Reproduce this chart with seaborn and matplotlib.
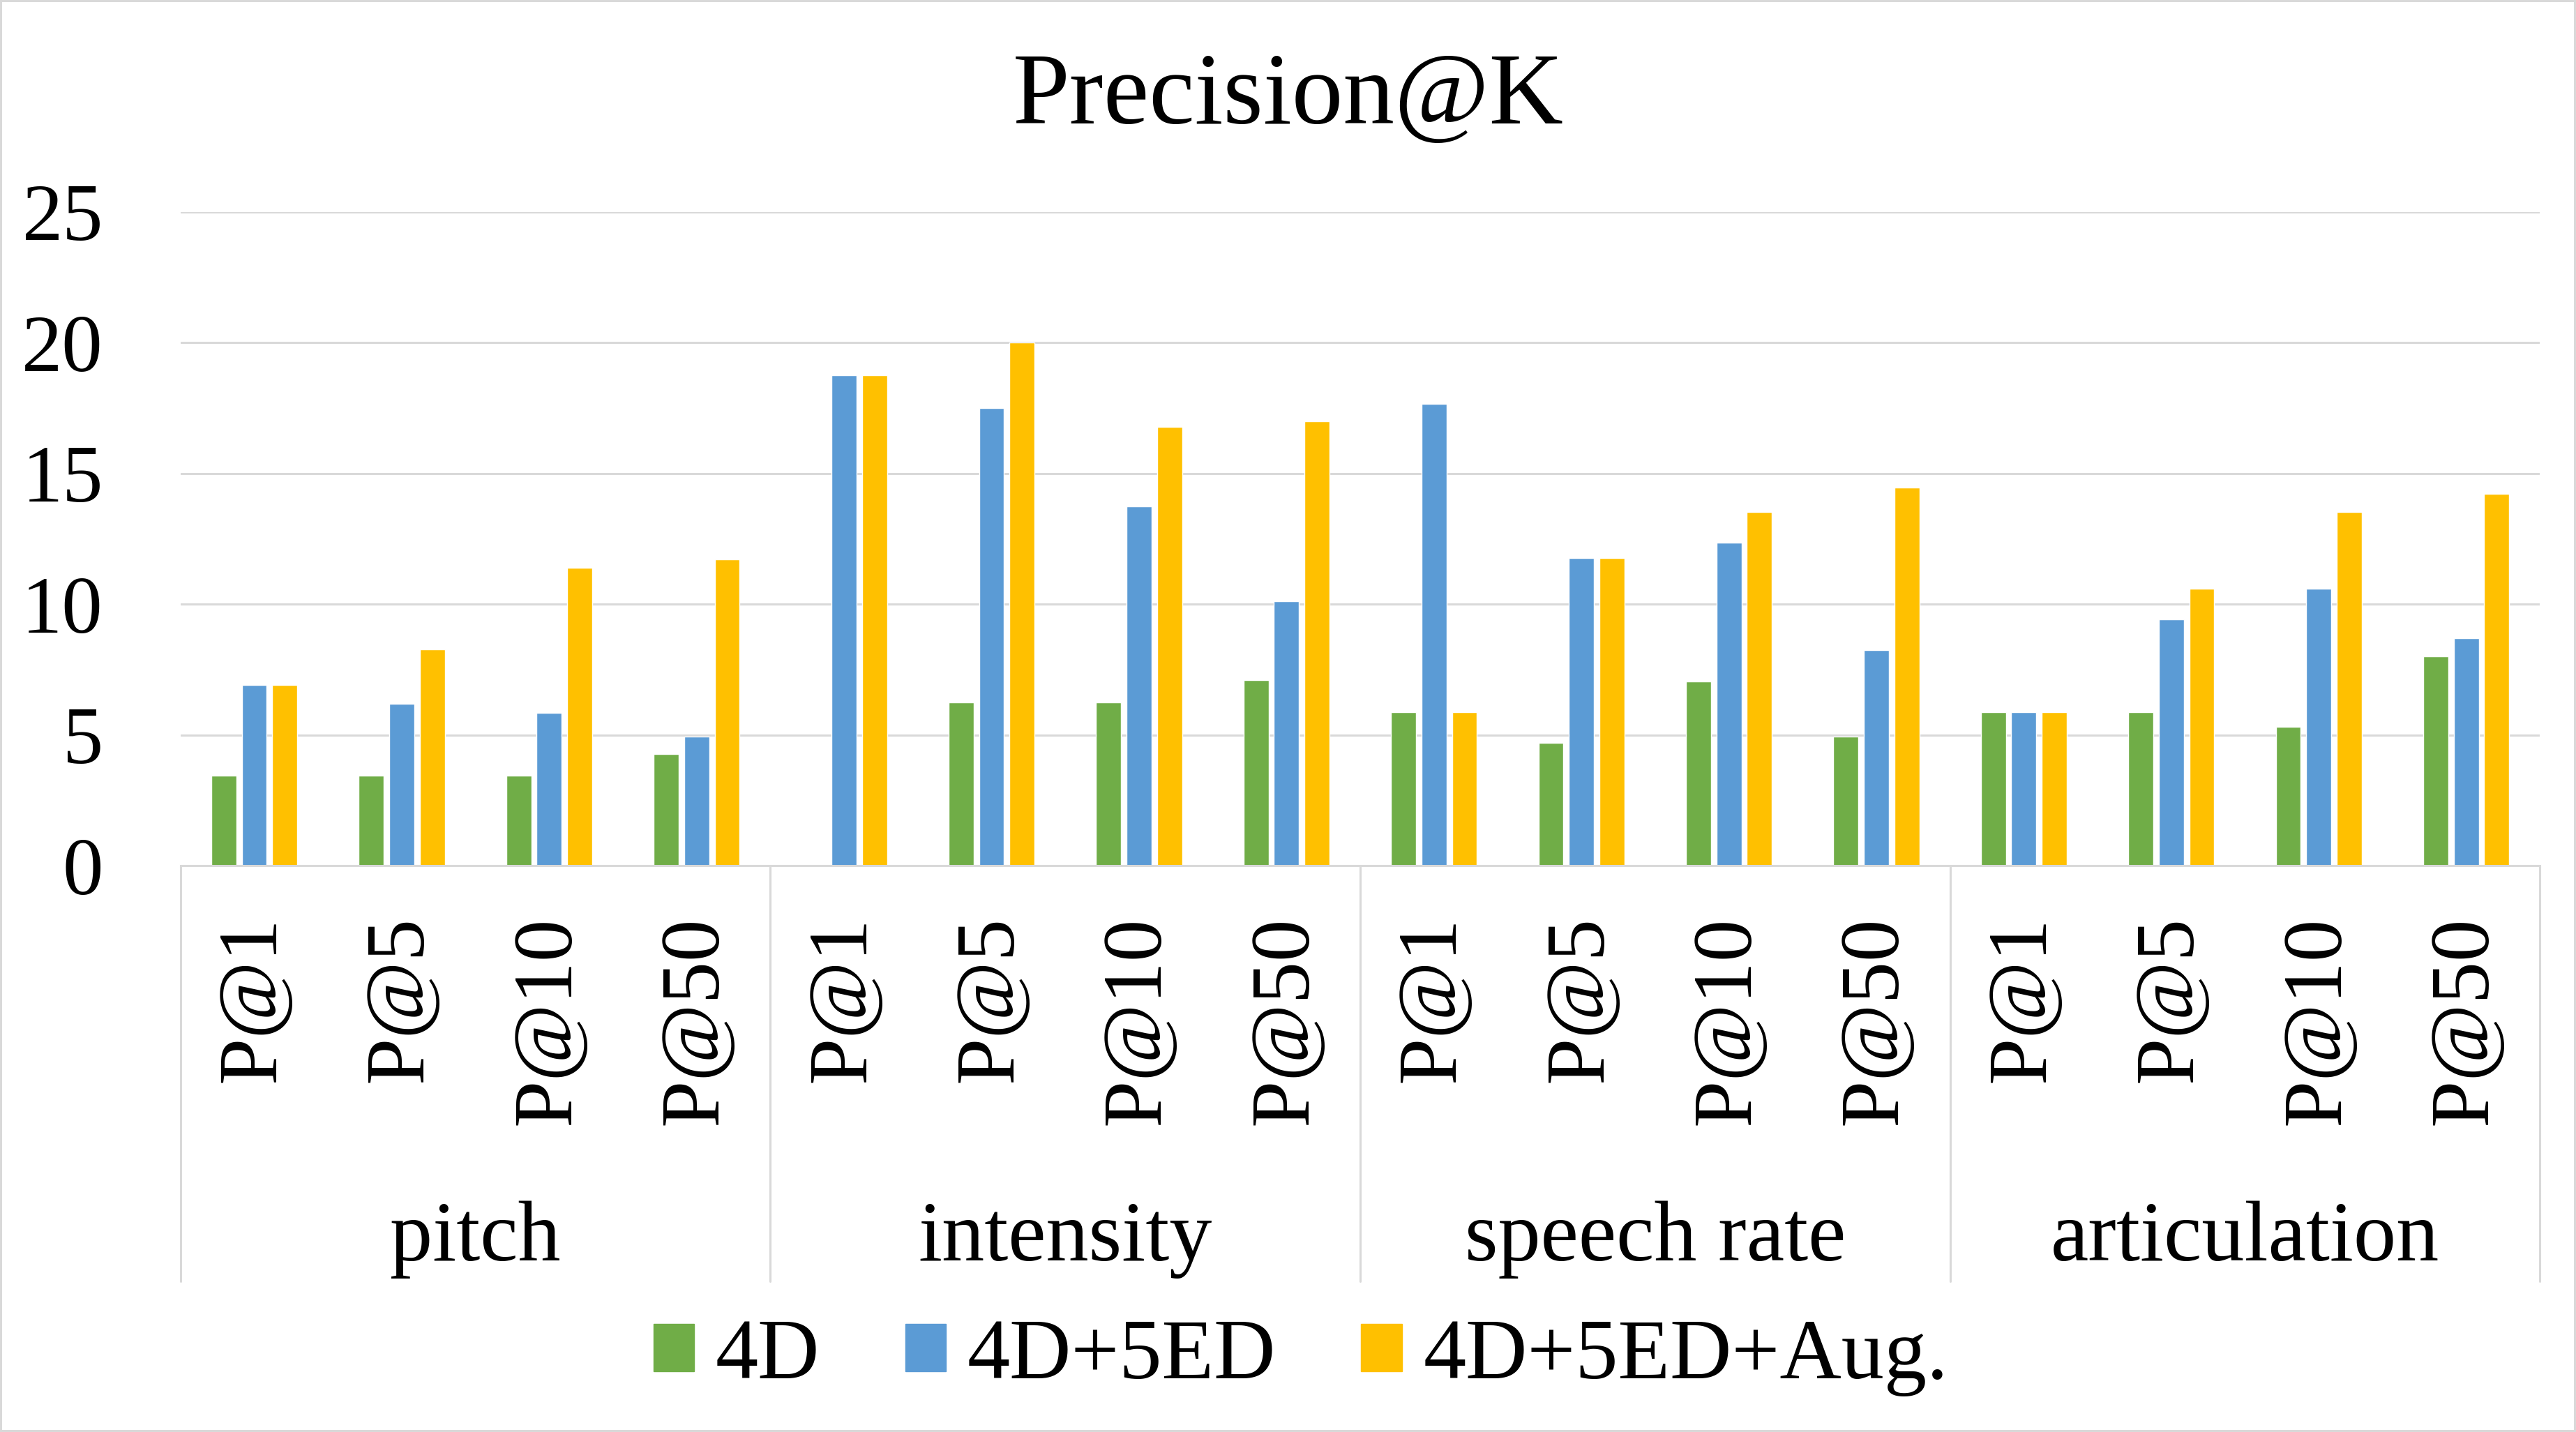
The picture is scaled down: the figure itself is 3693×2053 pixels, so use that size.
import pandas as pd
import matplotlib.pyplot as plt
import matplotlib.transforms as mtransforms
from matplotlib.lines import Line2D
import seaborn as sns

# dados
grupos = ['pitch', 'intensity', 'speech rate', 'articulation']
ks = ['P@1', 'P@5', 'P@10', 'P@50']
series = ['4D', '4D+5ED', '4D+5ED+Aug.']
cores = ['#70AD47', '#5B9BD5', '#FFC000']

v_4d = [3.45, 3.45, 3.45, 4.28,
        0.0, 6.25, 6.25, 7.1,
        5.88, 4.7, 7.05, 4.93,
        5.88, 5.88, 5.3, 8.0]
v_5ed = [6.9, 6.2, 5.85, 4.93,
         18.75, 17.5, 13.75, 10.12,
         17.65, 11.76, 12.35, 8.24,
         5.88, 9.41, 10.59, 8.7]
v_aug = [6.9, 8.28, 11.38, 11.7,
         18.75, 20.0, 16.77, 17.0,
         5.88, 11.76, 13.53, 14.45,
         5.88, 10.59, 13.53, 14.22]

linhas = []
for s, vals in zip(series, [v_4d, v_5ed, v_aug]):
    i = 0
    for g in grupos:
        for k in ks:
            linhas.append({'cat': g + '|' + k, 'k': k, 'serie': s, 'valor': vals[i]})
            i += 1
df = pd.DataFrame(linhas)
ordem = [g + '|' + k for g in grupos for k in ks]

sns.set_style('white')
plt.rcParams['font.family'] = ['Liberation Serif', 'DejaVu Serif']
plt.rcParams['text.color'] = 'black'
plt.rcParams['xtick.color'] = 'black'
plt.rcParams['ytick.color'] = 'black'

fig = plt.figure(figsize=(36.93, 20.53), dpi=100)
fig.patch.set_edgecolor('#d9d9d9')
fig.patch.set_linewidth(4)
ax = fig.add_axes([0.0701, 0.3955, 0.9159, 0.4565])

sns.barplot(data=df, x='cat', y='valor', hue='serie', order=ordem, hue_order=series,
            palette=cores, width=0.62, gap=0.18, ax=ax, legend=False, saturation=1)

ax.set_ylim(0, 25)
ax.set_xlim(-0.5, len(ordem) - 0.5)
ax.set_yticks(range(0, 26, 5))
ax.yaxis.grid(True, color='#d9d9d9', linewidth=2.2)
ax.set_axisbelow(True)
for lado in ['top', 'right', 'left']:
    ax.spines[lado].set_visible(False)
ax.spines['bottom'].set_color('#d9d9d9')
ax.spines['bottom'].set_linewidth(2.2)
ax.tick_params(axis='y', length=0, labelsize=84, pad=80)
ax.tick_params(axis='x', length=0, labelsize=87, pad=52)
ax.set_xticks(range(len(ordem)))
ax.set_xticklabels([c.split('|')[1] for c in ordem], rotation=90, va='top', ha='center')
ax.set_xlabel('')
ax.set_ylabel('')

# separadores e nomes dos grupos
trans = mtransforms.blended_transform_factory(ax.transData, ax.transAxes)
for j in range(len(grupos) + 1):
    xs = j * len(ks) - 0.5
    ax.add_line(Line2D([xs, xs], [0, -0.636], transform=trans, color='#d9d9d9',
                       linewidth=2.2, clip_on=False))
for j, g in enumerate(grupos):
    ax.text(j * len(ks) + 1.5, -0.572, g, transform=trans, ha='center', va='center', fontsize=88)

fig.text(0.5, 1 - 142 / 2053, 'Precision@K', ha='center', va='center', fontsize=106)

handles = [plt.Rectangle((0, 0), 1, 1, color=c) for c in cores]
fig.legend(handles, series, loc='center', bbox_to_anchor=(0.505, 1 - 1946 / 2053), ncol=3,
           frameon=False, fontsize=88, handlelength=0.48, handleheight=0.48,
           handletextpad=0.25, columnspacing=1.0)

plt.savefig('out.png', dpi=100)
